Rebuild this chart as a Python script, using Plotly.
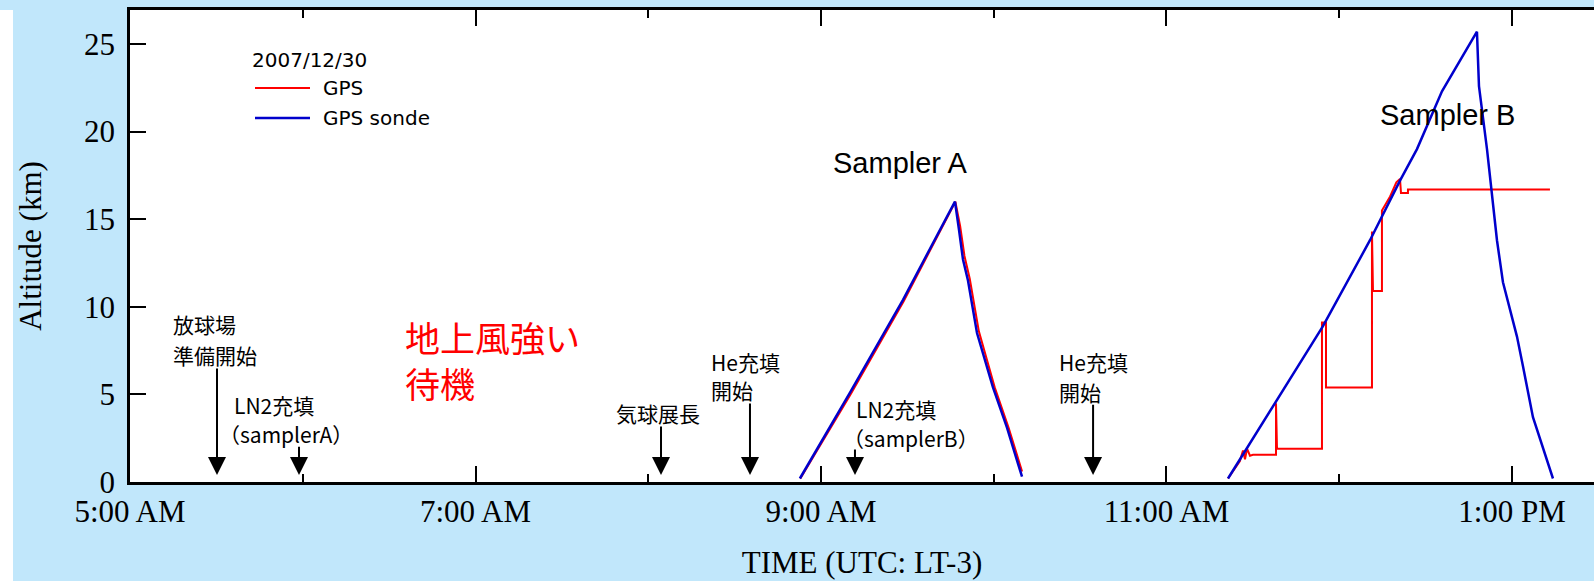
import plotly.graph_objects as go

DAY = "2007-12-30 "

# ---------------- data ----------------
# GPS sonde (blue) : Sampler A flight
sonde_a_time = ["08:52:40", "09:10:04", "09:28:29", "09:46:32", "09:47:56", "09:49:19",
                "09:51:03", "09:54:11", "09:59:44", "10:04:36", "10:09:49"]
sonde_a_alt = [0.2, 5.1, 10.4, 16.0, 14.4, 12.7, 11.5, 8.5, 5.4, 3.1, 0.3]

# GPS sonde (blue) : Sampler B flight
sonde_b_time = ["11:21:22", "11:38:23", "11:54:21", "12:10:41", "12:21:06", "12:27:00",
                "12:35:41", "12:47:50", "12:48:32", "12:51:19", "12:53:03", "12:54:47",
                "12:56:52", "12:59:18", "13:01:44", "13:03:49", "13:07:17", "13:14:14"]
sonde_b_alt = [0.2, 4.7, 8.9, 13.8, 17.2, 19.0, 22.3, 25.7, 22.6, 19.0, 16.5, 13.8,
               11.4, 9.8, 8.3, 6.6, 3.7, 0.2]

# GPS (red) : Sampler A flight
gps_a_time = ["08:52:50", "09:10:15", "09:28:40", "09:46:40", "09:48:20", "09:49:50",
              "09:51:40", "09:54:50", "10:00:20", "10:05:10", "10:09:50"]
gps_a_alt = [0.2, 5.0, 10.3, 16.0, 14.6, 12.9, 11.6, 8.6, 5.4, 3.1, 0.6]

# GPS (red) : Sampler B flight (stepped)
gps_b_time = ["11:21:22", "11:25:30", "11:26:34", "11:27:16", "11:27:58", "11:29:00",
              "11:30:02", "11:38:02", "11:38:02", "11:38:23", "11:54:00", "11:54:00",
              "11:55:24", "11:55:24", "12:11:22", "12:11:22", "12:11:43", "12:14:50",
              "12:14:50", "12:17:40", "12:19:50", "12:21:06", "12:21:27", "12:23:52",
              "12:23:52", "13:13:11"]
gps_b_alt = [0.2, 1.2, 1.8, 1.3, 1.9, 1.5,
             1.55, 1.55, 4.5, 1.9, 1.9, 9.1,
             9.1, 5.4, 5.4, 14.3, 10.9, 10.9,
             15.5, 16.3, 17.1, 17.3, 16.5, 16.5,
             16.7, 16.7]

# event arrows
event_time = ["05:30:13", "05:58:42", "08:04:26", "08:35:20", "09:11:48", "10:34:30"]
event_tail_alt = [6.56, 2.1, 3.25, 4.57, 1.94, 4.5]
event_tip_alt = 0.4

# black labels (left edge time, centre altitude)
label_text = ["放球場", "準備開始", "LN2充填", "（samplerA）", "気球展長",
              "He充填", "開始", "LN2充填", "（samplerB）", "He充填", "開始"]
label_time = ["05:14:14", "05:14:14", "05:35:25", "05:30:13", "07:48:06",
              "08:21:06", "08:21:06", "09:11:28", "09:06:57", "10:21:58", "10:21:58"]
label_alt = [9.02, 7.25, 4.39, 2.74, 3.94, 6.85, 5.25, 4.17, 2.51, 6.85, 5.14]

red_text = "地上風強い<br>待機"
red_time = "06:34:49"
red_alt = 7.0

flight_text = ["Sampler A", "Sampler B"]
flight_time = ["09:27:26", "12:37:46"]
flight_alt = [18.2, 20.95]

legend_title = "2007/12/30"
series_names = ["GPS", "GPS sonde"]
series_colors = ["#ff0000", "#0000cc"]

x_range = ["05:00:00", "13:28:29"]
y_range = [0, 26.94]
y_ticks = [0, 5, 10, 15, 20, 25]

# ---------------- figure ----------------
def ts(lst):
    return [DAY + t for t in lst]

W, H = 1594, 581
L, R, T, B = 130, 0, 10, 99
pw, ph = W - L - R, H - T - B

def px(xp):
    return (xp - L) / pw

def py(yp):
    return (H - B - yp) / ph

gps_x = ts(gps_a_time) + [None] + ts(gps_b_time)
gps_y = gps_a_alt + [None] + gps_b_alt
sonde_x = ts(sonde_a_time) + [None] + ts(sonde_b_time)
sonde_y = sonde_a_alt + [None] + sonde_b_alt

fig = go.Figure()
fig.add_trace(go.Scatter(x=gps_x, y=gps_y, mode="lines", name=series_names[0],
                         line=dict(color=series_colors[0], width=2), connectgaps=False,
                         showlegend=False))
fig.add_trace(go.Scatter(x=sonde_x, y=sonde_y, mode="lines", name=series_names[1],
                         line=dict(color=series_colors[1], width=2.5), connectgaps=False,
                         showlegend=False))

CJK = "Noto Sans CJK JP"
SERIF = "Liberation Serif"
LEGF = "DejaVu Sans"

annotations = []
for t, ya in zip(event_time, event_tail_alt):
    annotations.append(dict(x=DAY + t, y=event_tip_alt, ax=DAY + t, ay=ya,
                            xref="x", yref="y", axref="x", ayref="y", text="",
                            showarrow=True, arrowhead=2, arrowsize=1.8,
                            arrowwidth=2, arrowcolor="black"))
for txt, t, a in zip(label_text, label_time, label_alt):
    annotations.append(dict(x=DAY + t, y=a, xref="x", yref="y", text=txt,
                            showarrow=False, xanchor="left", yanchor="middle",
                            font=dict(family=CJK, size=21, color="black")))
annotations.append(dict(x=DAY + red_time, y=red_alt, xref="x", yref="y", text=red_text,
                        showarrow=False, xanchor="left", yanchor="middle", align="left",
                        font=dict(family=CJK, size=35, color="#ff0000")))
for txt, t, a in zip(flight_text, flight_time, flight_alt):
    annotations.append(dict(x=DAY + t, y=a, xref="x", yref="y", text=txt,
                            showarrow=False, xanchor="center", yanchor="middle",
                            font=dict(family="Liberation Sans", size=29, color="black")))

# legend drawn as key lines + labels
annotations.append(dict(x=px(250), y=py(60), xref="paper", yref="paper", text=legend_title,
                        showarrow=False, xanchor="left", yanchor="middle",
                        font=dict(family=LEGF, size=20, color="black")))
shapes = [dict(type="rect", xref="paper", yref="paper",
               x0=-L / pw, x1=(13 - L) / pw, y0=-B / ph, y1=1.0,
               fillcolor="white", line=dict(width=0), layer="below")]
for i, (nm, col) in enumerate(zip(series_names, series_colors)):
    yy = 88 + 30 * i
    annotations.append(dict(x=px(321), y=py(yy), xref="paper", yref="paper", text=nm,
                            showarrow=False, xanchor="left", yanchor="middle",
                            font=dict(family=LEGF, size=20, color="black")))
    shapes.append(dict(type="line", xref="paper", yref="paper",
                       x0=px(255), x1=px(310), y0=py(yy), y1=py(yy),
                       line=dict(color=col, width=2 if i == 0 else 2.5)))

fig.update_layout(
    width=W, height=H,
    margin=dict(l=L, r=R, t=T, b=B, pad=0),
    paper_bgcolor="#c1e7fb",
    plot_bgcolor="white",
    showlegend=False,
    annotations=annotations,
    shapes=shapes,
    xaxis=dict(type="date", range=ts(x_range),
               tickformat="%-I:%M %p", dtick=7200000, tick0=DAY + "05:00:00",
               ticks="inside", ticklen=16, tickwidth=2, tickcolor="black",
               minor=dict(dtick=3600000, ticks="inside", ticklen=8, tickwidth=2, tickcolor="black"),
               showline=True, linewidth=2.5, linecolor="black", mirror="allticks",
               showgrid=False, zeroline=False,
               tickfont=dict(family=SERIF, size=31, color="black"),
               title=dict(text="TIME (UTC: LT-3)", standoff=24,
                          font=dict(family=SERIF, size=31, color="black"))),
    yaxis=dict(range=y_range, tickvals=y_ticks,
               ticks="inside", ticklen=16, tickwidth=2, tickcolor="black",
               showline=True, linewidth=2.5, linecolor="black", mirror=False,
               showgrid=False, zeroline=False, ticklabelstandoff=6,
               tickfont=dict(family=SERIF, size=31, color="black"),
               title=dict(text="Altitude (km)", standoff=34,
                          font=dict(family=SERIF, size=31, color="black"))),
    yaxis2=dict(range=y_range, overlaying="y", side="right", tickvals=y_ticks,
                ticks="inside", ticklen=11, tickwidth=2, tickcolor="black",
                showticklabels=False, showline=False, showgrid=False, zeroline=False),
)

fig.write_html("out.html")
